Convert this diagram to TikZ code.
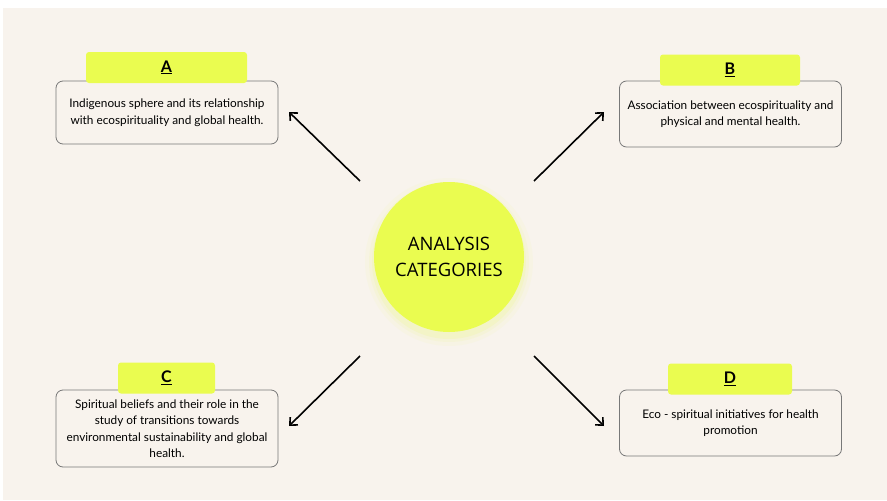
\documentclass[tikz,border=0pt]{standalone}
\usepackage{fontspec}
\setmainfont{Lato}
\newfontfamily\circfont{Open Sans}
\usetikzlibrary{arrows.meta, positioning}
\definecolor{paper}{RGB}{248,243,237}
\definecolor{lime}{RGB}{234,252,80}
\definecolor{edge}{RGB}{120,120,120}

\begin{document}
\begin{tikzpicture}[x=1pt, y=-1pt]
\tikzset{
  catbox/.style={
    draw=edge,
    line width=0.8pt,
    rectangle,
    rounded corners=7pt,
    minimum width=222pt,
    inner sep=0pt,
    align=center,
    font=\fontsize{11.8}{16.5}\selectfont
  },
  tab/.style={
    rectangle,
    fill=lime,
    rounded corners=3pt,
    minimum height=31pt,
    inner sep=0pt,
    font=\fontsize{16}{16}\selectfont\bfseries
  },
  pointer/.style={
    -{Straight Barb[length=6pt, width=11pt]},
    line width=1.6pt
  }
}
\useasboundingbox (0,0) rectangle (887,501);
% Background
\fill[paper] (3,8) rectangle (887,500);

% Centre circle with soft glow
\foreach \r/\o in {84/0.05, 80/0.08, 77/0.12} {
  \fill[lime, opacity=\o] (449,262) circle (\r);
}
\node[circle, fill=lime, minimum size=150pt, inner sep=0pt, align=center,
      font=\circfont\fontsize{18.5}{26}\selectfont] (core) at (449,257) {ANALYSIS\\CATEGORIES};

% Category boxes
\node[catbox, minimum height=63pt] (boxA) at (167,112.5)
  {Indigenous sphere and its relationship\\with ecospirituality and global health.};
\node[catbox, minimum height=66pt] (boxB) at (730.5,114)
  {Association between ecospirituality and\\physical and mental health.};
\node[catbox, minimum height=77pt] (boxC) at (167,428.5)
  {Spiritual beliefs and their role in the\\study of transitions towards\\environmental sustainability and global\\health.};
\node[catbox, minimum height=66pt] (boxD) at (730.5,423)
  {Eco - spiritual initiatives for health\\promotion};

% Letter tabs
\node[tab, minimum width=161pt] (tabA) at (166.5,67.5) {\underline{A}};
\node[tab, minimum width=140pt] (tabB) at (730,70) {\underline{B}};
\node[tab, minimum width=97pt] (tabC) at (166.5,378) {\underline{C}};
\node[tab, minimum width=124pt] (tabD) at (730,379) {\underline{D}};

% Arrow ends
\coordinate (fromA) at (360,181);
\coordinate (toA) at (289,112);
\coordinate (fromB) at (534,181);
\coordinate (toB) at (604,112);
\coordinate (fromC) at (360,356);
\coordinate (toC) at (289,426);
\coordinate (fromD) at (534,356);
\coordinate (toD) at (604,426);

\draw[pointer] (fromA) -- (toA);
\draw[pointer] (fromB) -- (toB);
\draw[pointer] (fromC) -- (toC);
\draw[pointer] (fromD) -- (toD);

\end{tikzpicture}
\end{document}
